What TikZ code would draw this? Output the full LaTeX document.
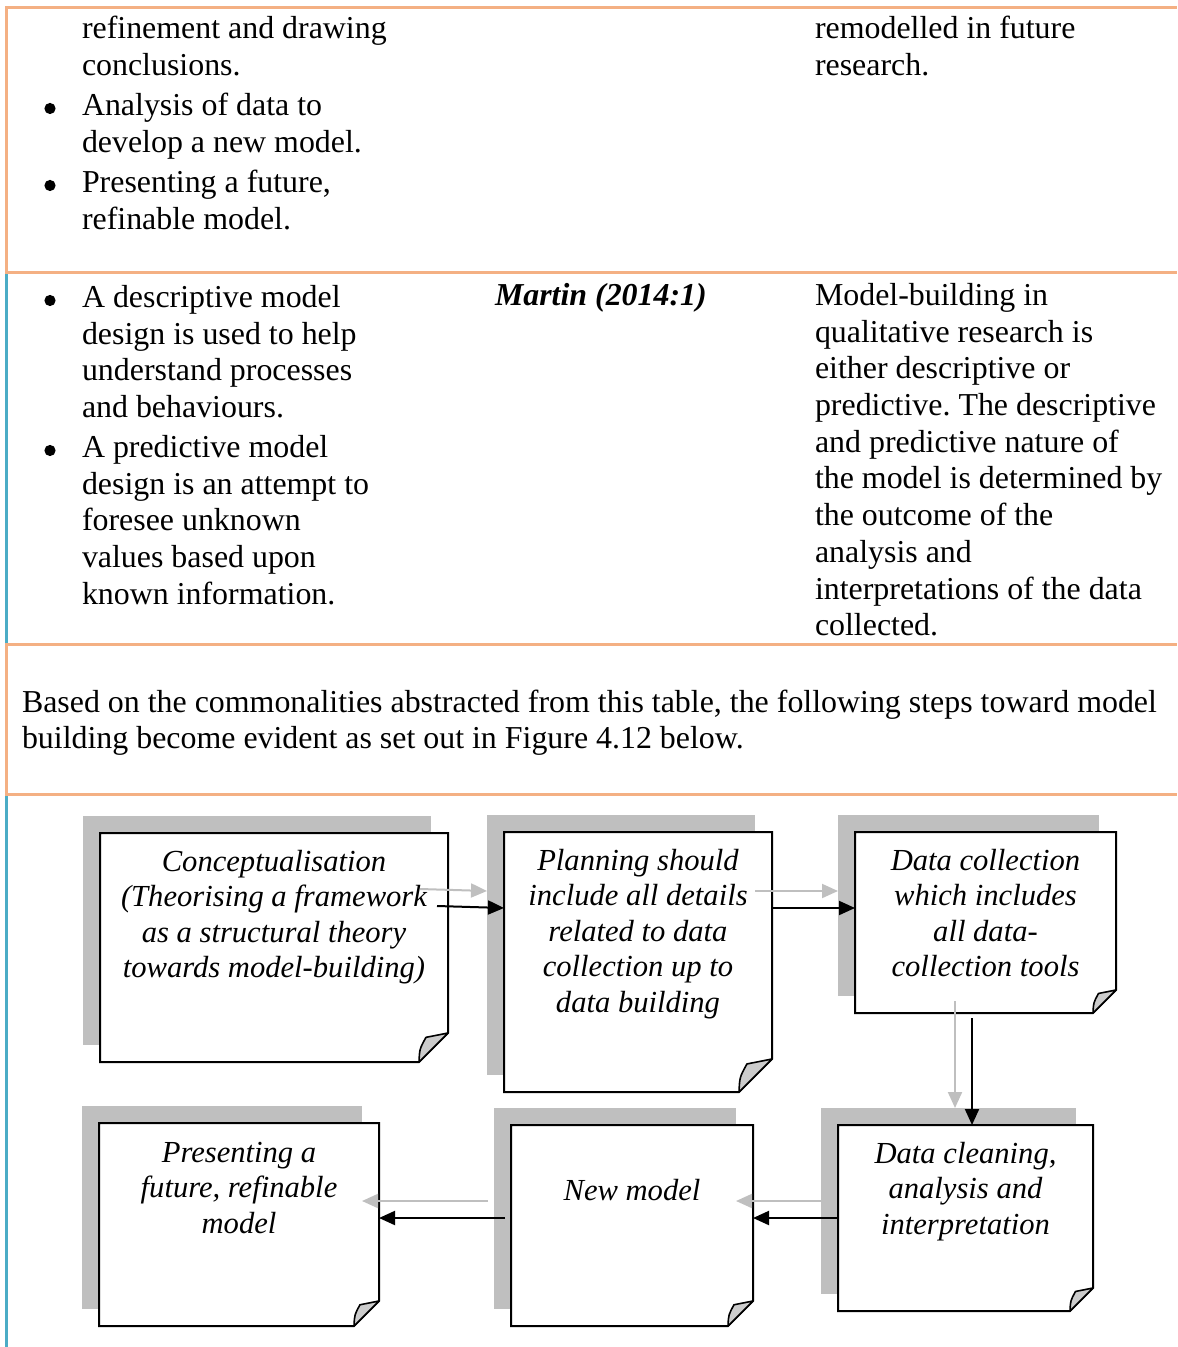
\documentclass[tikz,border=0pt]{standalone}
\usepackage{fontspec}
\setmainfont{Liberation Serif}
\usetikzlibrary{calc,arrows.meta,shadows}

\definecolor{rulecol}{HTML}{F4B083}
\definecolor{sidecol}{HTML}{4BACC6}
\definecolor{shadecol}{HTML}{BFBFBF}
\definecolor{foldcol}{HTML}{CCCCCC}
\definecolor{ghostcol}{HTML}{BFBFBF}

\newcommand\bodyfont{\fontsize{15.95pt}{18.35pt}\selectfont\frenchspacing}
\newcommand\notefont{\fontsize{15.3pt}{17.8pt}\selectfont\itshape\frenchspacing}

% folded bottom-right corner of a note; #1 = node name, #2 = fold size
\newcommand\foldcorner[2]{%
  \draw[notebox] (#1.north west) -- (#1.north east)
    -- ($(#1.south east)+(0,-#2)$) -- ($(#1.south east)+(-#2,0)$)
    -- (#1.south west) -- cycle;
  \filldraw[fold] ($(#1.south east)+(-#2,0)$)
    .. controls ($(#1.south east)+({-0.98*#2},{-0.45*#2})$) .. ($(#1.south east)+({-0.76*#2},{-0.85*#2})$)
    -- ($(#1.south east)+(0,-#2)$) -- cycle;}

% list bullet in front of the first line of an item node
\newcommand\itemdot[1]{\fill ($(#1.base west)+(-32,-7)$) circle (2.8pt);}

\begin{document}
\begin{tikzpicture}[x=0.5pt, y=-0.5pt,
  every node/.style={inner sep=0pt, outer sep=0pt},
  cell/.style={anchor=base west, align=flush left, text width=#1, font=\bodyfont},
  cell/.default=180pt,
  note/.style={draw=none, fill=white,
    general shadow={fill=shadecol, shadow xshift=-8.5pt, shadow yshift=8.5pt}},
  notetext/.style={anchor=base, align=flush center, text width=#1, font=\notefont},
  notebox/.style={draw=black, line width=1pt, line join=miter},
  fold/.style={fill=foldcol, draw=black, line width=0.8pt, line join=round},
  hrule/.style={draw=rulecol, line width=1.5pt},
  vside/.style={draw=sidecol, line width=1.5pt},
  link/.style={line width=1pt, -{Triangle[length=8pt,width=7pt]}},
  ghost/.style={link, draw=ghostcol, transform canvas={shift={(-8.5pt,8.5pt)}}}
]
\useasboundingbox (0,0) rectangle (1177,1347);

% ---- table frame ----
\draw[hrule] (6,8) -- (6,272.5);
\draw[vside] (6,272.5) -- (6,644.5);
\draw[hrule] (6,644.5) -- (6,794);
\draw[vside] (6,794) -- (6,1347);
\draw[hrule] (5,8) -- (1177,8);
\draw[hrule] (5,272.5) -- (1177,272.5);
\draw[hrule] (5,644.5) -- (1177,644.5);
\draw[hrule] (5,794) -- (1177,794);

% ---- first row ----
\node[cell] (r1a) at (82,39) {refinement and drawing\\conclusions.};
\node[cell] (r1b) at (82,115.5) {Analysis of data to\\develop a new model.};
\node[cell] (r1c) at (82,192.5) {Presenting a future,\\refinable model.};
\node[cell] (r1d) at (815,39) {remodelled in future\\research.};
\itemdot{r1b}
\itemdot{r1c}

% ---- second row ----
\node[cell] (r2a) at (82,307.5) {A descriptive model\\design is used to help\\understand processes\\and behaviours.};
\node[cell] (r2b) at (82,457.5) {A predictive model\\design is an attempt to\\foresee unknown\\values based upon\\known information.};
\itemdot{r2a}
\itemdot{r2b}
\node[anchor=base west, font=\bodyfont\bfseries\itshape] (r2c) at (495,305.5) {Martin (2014:1)};
\node[cell] (r2d) at (815,305.5) {Model-building in\\qualitative research is\\either descriptive or\\predictive. The descriptive\\and predictive nature of\\the model is determined by\\the outcome of the\\analysis and\\interpretations of the data\\collected.};

% ---- paragraph ----
\node[cell=580pt] (para) at (22,712) {Based on the commonalities abstracted from this table, the following steps toward model\\building become evident as set out in Figure 4.12 below.};

% ---- notes ----
\node[note, minimum width=174pt, minimum height=114.5pt] (c) at (274,947.5) {};
\node[note, minimum width=134pt, minimum height=130pt] (p) at (638,962) {};
\node[note, minimum width=130.5pt, minimum height=90.5pt] (d) at (985.5,922.5) {};
\node[note, minimum width=127.5pt, minimum height=93pt] (dc) at (965.5,1218) {};
\node[note, minimum width=121pt, minimum height=100.5pt] (nm) at (632,1225.5) {};
\node[note, minimum width=140pt, minimum height=101.5pt] (pr) at (239,1224.5) {};

\foldcorner{c}{29}
\foldcorner{p}{33}
\foldcorner{d}{23}
\foldcorner{dc}{23}
\foldcorner{nm}{25}
\foldcorner{pr}{25}

\node[notetext=174pt] (ct) at (274,871) {Conceptualisation\\(Theorising a framework\\as a structural theory\\towards model-building)};
\node[notetext=134pt] (pt) at (638,870) {Planning should\\include all details\\related to data\\collection up to\\data building};
\node[notetext=130.5pt] (dt) at (985.5,870) {Data collection\\which includes\\all data-\\collection tools};
\node[notetext=127.5pt] (dct) at (965.5,1163) {Data cleaning,\\analysis and\\interpretation};
\node[notetext=121pt] (nmt) at (632,1200) {New model};
\node[notetext=140pt] (prt) at (239,1162) {Presenting a\\future, refinable\\model};

% ---- connectors: grey offset copies, then the black arrows ----
\draw[ghost] ([xshift=-5.5pt,yshift=-36.5pt]c.north east) -- ([yshift=-38pt]p.north west);
\draw[ghost] ([yshift=-38pt]p.north east) -- ([yshift=-38pt]d.north west);
\draw[ghost] ([xshift=58.5pt,yshift=-2.5pt]d.south west) -- ([xshift=67pt]dc.north west);
\draw[ghost] (dc.west) -- (dc.west -| nm.east);
\draw[ghost] ($(dc.west -| nm.west)+(-6,0)$) -- (dc.west -| pr.east);

\draw[link] ([xshift=-5.5pt,yshift=-36.5pt]c.north east) -- ([yshift=-38pt]p.north west);
\draw[link] ([yshift=-38pt]p.north east) -- ([yshift=-38pt]d.north west);
\draw[link] ([xshift=58.5pt,yshift=-2.5pt]d.south west) -- ([xshift=67pt]dc.north west);
\draw[link] (dc.west) -- (dc.west -| nm.east);
\draw[link] ($(dc.west -| nm.west)+(-6,0)$) -- (dc.west -| pr.east);
\end{tikzpicture}
\end{document}
